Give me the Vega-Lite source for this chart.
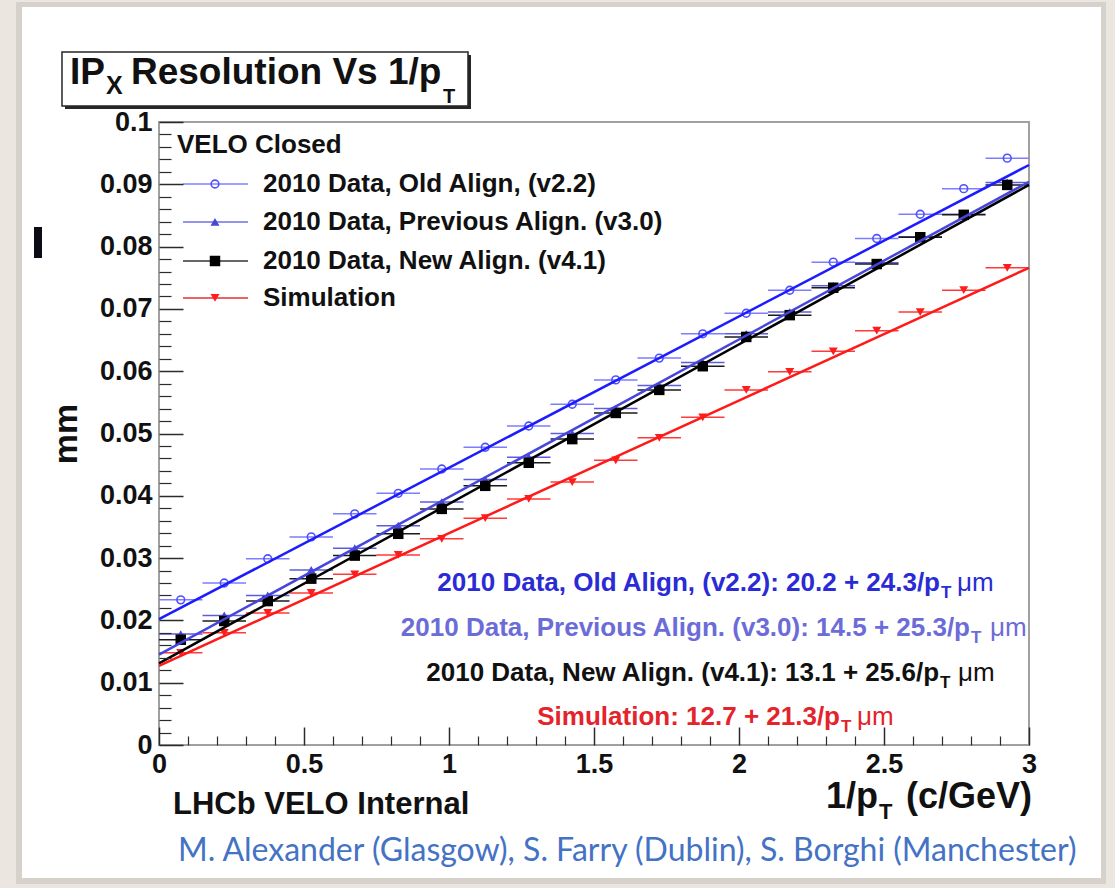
{
  "$schema": "https://vega.github.io/schema/vega-lite/v6.json",
  "width": 870,
  "height": 623,
  "autosize": {"type": "none"},
  "padding": {"left": 159, "top": 122, "right": 86, "bottom": 143},
  "background": "#ebe7e0",
  "config": {"view": {"stroke": null}},
  "datasets": {
    "bins": [
      {"x": 0.075, "lo": 0, "hi": 0.15, "old": 0.0233, "prev": 0.0178, "new": 0.0169, "sim": 0.0148},
      {"x": 0.225, "lo": 0.15, "hi": 0.3, "old": 0.0260, "prev": 0.0208, "new": 0.0199, "sim": 0.0180},
      {"x": 0.375, "lo": 0.3, "hi": 0.45, "old": 0.0299, "prev": 0.0240, "new": 0.0231, "sim": 0.0212},
      {"x": 0.525, "lo": 0.45, "hi": 0.6, "old": 0.0334, "prev": 0.0281, "new": 0.0267, "sim": 0.0244},
      {"x": 0.675, "lo": 0.6, "hi": 0.75, "old": 0.0371, "prev": 0.0316, "new": 0.0304, "sim": 0.0274},
      {"x": 0.825, "lo": 0.75, "hi": 0.9, "old": 0.0404, "prev": 0.0352, "new": 0.0339, "sim": 0.0305},
      {"x": 0.975, "lo": 0.9, "hi": 1.05, "old": 0.0443, "prev": 0.0390, "new": 0.0379, "sim": 0.0331},
      {"x": 1.125, "lo": 1.05, "hi": 1.2, "old": 0.0478, "prev": 0.0426, "new": 0.0416, "sim": 0.0364},
      {"x": 1.275, "lo": 1.2, "hi": 1.35, "old": 0.0512, "prev": 0.0462, "new": 0.0453, "sim": 0.0395},
      {"x": 1.425, "lo": 1.35, "hi": 1.5, "old": 0.0547, "prev": 0.0500, "new": 0.0491, "sim": 0.0422},
      {"x": 1.575, "lo": 1.5, "hi": 1.65, "old": 0.0586, "prev": 0.0540, "new": 0.0533, "sim": 0.0457},
      {"x": 1.725, "lo": 1.65, "hi": 1.8, "old": 0.0621, "prev": 0.0577, "new": 0.0570, "sim": 0.0493},
      {"x": 1.875, "lo": 1.8, "hi": 1.95, "old": 0.0660, "prev": 0.0614, "new": 0.0608, "sim": 0.0526},
      {"x": 2.025, "lo": 1.95, "hi": 2.1, "old": 0.0693, "prev": 0.0660, "new": 0.0655, "sim": 0.0570},
      {"x": 2.175, "lo": 2.1, "hi": 2.25, "old": 0.0730, "prev": 0.0695, "new": 0.0690, "sim": 0.0599},
      {"x": 2.325, "lo": 2.25, "hi": 2.4, "old": 0.0775, "prev": 0.0737, "new": 0.0734, "sim": 0.0632},
      {"x": 2.475, "lo": 2.4, "hi": 2.55, "old": 0.0813, "prev": 0.0774, "new": 0.0772, "sim": 0.0665},
      {"x": 2.625, "lo": 2.55, "hi": 2.7, "old": 0.0852, "prev": 0.0816, "new": 0.0815, "sim": 0.0695},
      {"x": 2.775, "lo": 2.7, "hi": 2.85, "old": 0.0893, "prev": 0.0852, "new": 0.0851, "sim": 0.0730},
      {"x": 2.925, "lo": 2.85, "hi": 3, "old": 0.0942, "prev": 0.0903, "new": 0.0899, "sim": 0.0766}
    ],
    "fits": [
      {"series": "old", "x": 0, "y": 0.0202}, {"series": "old", "x": 3, "y": 0.0931},
      {"series": "prev", "x": 0, "y": 0.0145}, {"series": "prev", "x": 3, "y": 0.0904},
      {"series": "new", "x": 0, "y": 0.0131}, {"series": "new", "x": 3, "y": 0.0899},
      {"series": "sim", "x": 0, "y": 0.0127}, {"series": "sim", "x": 3, "y": 0.0766}
    ]
  },
  "resolve": {"axis": {"x": "independent", "y": "independent"}},
  "layer": [
    {
      "layer": [
        {
          "data": {"values": [{}]},
          "mark": {"type": "rect", "color": "#d6d1ca"},
          "encoding": {
            "x": {"datum": -0.4931, "type": "quantitative", "scale": {"domain": [0, 3], "nice": false, "zero": false},
              "axis": {"orient": "bottom", "values": [0, 0.5, 1, 1.5, 2, 2.5, 3], "format": "~g", "title": null, "grid": false, "domain": false,
                "tickSize": -18, "tickColor": "#2b2b2b", "tickWidth": 1.5,
                "labelFont": "Liberation Sans", "labelFontWeight": "bold", "labelFontSize": 27, "labelColor": "#111111",
                "labelPadding": 24, "labelOverlap": false, "labelFlush": false, "labelBound": false, "zindex": 1}},
            "x2": {"datum": 3.2655},
            "y": {"datum": 0.11926, "type": "quantitative", "scale": {"domain": [0, 0.1], "nice": false, "zero": false},
              "axis": {"orient": "left", "values": [0, 0.01, 0.02, 0.03, 0.04, 0.05, 0.06, 0.07, 0.08, 0.09, 0.1], "format": "~g",
                "title": "mm", "titleFont": "Liberation Sans", "titleFontWeight": "bold", "titleFontSize": 34, "titleColor": "#111111", "titlePadding": 16,
                "grid": false, "domain": false, "tickSize": -24, "tickColor": "#2b2b2b", "tickWidth": 1.5,
                "labelFont": "Liberation Sans", "labelFontWeight": "bold", "labelFontSize": 27, "labelColor": "#111111",
                "labelPadding": 31, "labelOverlap": false, "labelFlush": false, "labelBound": false, "zindex": 1}},
            "y2": {"datum": -0.02231}
          }
        },
        {
          "data": {"values": [{}]},
          "mark": {"type": "rect", "color": "#ffffff"},
          "encoding": {"x": {"datum": -0.4724}, "x2": {"datum": 3.2483}, "y": {"datum": 0.11846}, "y2": {"datum": -0.02135}}
        },
        {
          "data": {"values": [{}]},
          "mark": {"type": "rect", "color": "#0c0c16"},
          "encoding": {"x": {"datum": -0.431}, "x2": {"datum": -0.4034}, "y": {"datum": 0.08315}, "y2": {"datum": 0.07817}}
        },
        {
          "data": {"values": [{}]},
          "mark": {"type": "rect", "color": "#262626"},
          "encoding": {"x": {"datum": -0.3241}, "x2": {"datum": 1.0759}, "y": {"datum": 0.11075}, "y2": {"datum": 0.10209}}
        },
        {
          "data": {"values": [{}]},
          "mark": {"type": "rect", "fill": "#ffffff", "stroke": "#262626", "strokeWidth": 1.5},
          "encoding": {"x": {"datum": -0.3345}, "x2": {"datum": 1.0655}, "y": {"datum": 0.11124}, "y2": {"datum": 0.10257}}
        },
        {
          "data": {"values": [{}]},
          "mark": {"type": "text", "text": "IP", "font": "Liberation Sans", "fontWeight": "bold", "fontSize": 37, "align": "left", "baseline": "alphabetic", "color": "#111111"},
          "encoding": {"x": {"datum": -0.3069}, "y": {"datum": 0.1061}}
        },
        {
          "data": {"values": [{}]},
          "mark": {"type": "text", "text": "X", "font": "Liberation Sans", "fontWeight": "bold", "fontSize": 25, "align": "left", "baseline": "alphabetic", "color": "#111111"},
          "encoding": {"x": {"datum": -0.1828}, "y": {"datum": 0.10457}}
        },
        {
          "data": {"values": [{}]},
          "mark": {"type": "text", "text": "Resolution Vs 1/p", "font": "Liberation Sans", "fontWeight": "bold", "fontSize": 37, "align": "left", "baseline": "alphabetic", "color": "#111111"},
          "encoding": {"x": {"datum": -0.0966}, "y": {"datum": 0.1061}}
        },
        {
          "data": {"values": [{}]},
          "mark": {"type": "text", "text": "T", "font": "Liberation Sans", "fontWeight": "bold", "fontSize": 20, "align": "left", "baseline": "alphabetic", "color": "#111111"},
          "encoding": {"x": {"datum": 0.9793}, "y": {"datum": 0.10297}}
        },
        {
          "data": {"values": [{}]},
          "mark": {"type": "rect", "fill": "transparent", "stroke": "#a0a0a0", "strokeWidth": 2},
          "encoding": {"x": {"datum": 0}, "x2": {"datum": 3}, "y": {"datum": 0}, "y2": {"datum": 0.1}}
        },
        {
          "data": {"name": "bins"},
          "transform": [{"fold": ["old", "prev", "new", "sim"], "as": ["series", "y"]}],
          "mark": {"type": "rule", "strokeWidth": 1.5},
          "encoding": {
            "x": {"field": "lo", "type": "quantitative"},
            "x2": {"field": "hi"},
            "y": {"field": "y", "type": "quantitative"},
            "color": {"field": "series", "type": "nominal", "legend": null,
              "scale": {"domain": ["old", "prev", "new", "sim"], "range": ["#7d7dff", "#5c5ce0", "#1a1a1a", "#ff3a3a"]}}
          }
        },
        {
          "data": {"name": "bins"},
          "mark": {"type": "point", "shape": "circle", "filled": false, "stroke": "#5050ff", "strokeWidth": 1.6, "size": 60, "opacity": 1},
          "encoding": {"x": {"field": "x", "type": "quantitative"}, "y": {"field": "old", "type": "quantitative"}}
        },
        {
          "data": {"name": "bins"},
          "mark": {"type": "point", "shape": "triangle-up", "filled": true, "color": "#4848d8", "size": 80, "opacity": 1},
          "encoding": {"x": {"field": "x", "type": "quantitative"}, "y": {"field": "prev", "type": "quantitative"}}
        },
        {
          "data": {"name": "bins"},
          "mark": {"type": "point", "shape": "square", "filled": true, "color": "#000000", "size": 110, "opacity": 1},
          "encoding": {"x": {"field": "x", "type": "quantitative"}, "y": {"field": "new", "type": "quantitative"}}
        },
        {
          "data": {"name": "bins"},
          "mark": {"type": "point", "shape": "triangle-down", "filled": true, "color": "#ff1c1c", "size": 80, "opacity": 1},
          "encoding": {"x": {"field": "x", "type": "quantitative"}, "y": {"field": "sim", "type": "quantitative"}}
        },
        {
          "data": {"name": "fits"},
          "transform": [{"filter": "datum.series === 'old'"}],
          "mark": {"type": "line", "color": "#1c1cff", "strokeWidth": 2.5},
          "encoding": {"x": {"field": "x", "type": "quantitative"}, "y": {"field": "y", "type": "quantitative"}}
        },
        {
          "data": {"name": "fits"},
          "transform": [{"filter": "datum.series === 'prev'"}],
          "mark": {"type": "line", "color": "#4646dc", "strokeWidth": 2.5},
          "encoding": {"x": {"field": "x", "type": "quantitative"}, "y": {"field": "y", "type": "quantitative"}}
        },
        {
          "data": {"name": "fits"},
          "transform": [{"filter": "datum.series === 'new'"}],
          "mark": {"type": "line", "color": "#000000", "strokeWidth": 2.5},
          "encoding": {"x": {"field": "x", "type": "quantitative"}, "y": {"field": "y", "type": "quantitative"}}
        },
        {
          "data": {"name": "fits"},
          "transform": [{"filter": "datum.series === 'sim'"}],
          "mark": {"type": "line", "color": "#ff1a1a", "strokeWidth": 2.5},
          "encoding": {"x": {"field": "x", "type": "quantitative"}, "y": {"field": "y", "type": "quantitative"}}
        },
        {
          "data": {"values": [{}]},
          "mark": {"type": "text", "text": "VELO Closed", "font": "Liberation Sans", "fontWeight": "bold", "fontSize": 26, "align": "left", "baseline": "middle", "color": "#111111"},
          "encoding": {"x": {"datum": 0.0621}, "y": {"datum": 0.09631}}
        },
        {
          "data": {"values": [{}]},
          "mark": {"type": "rule", "color": "#8080ff", "strokeWidth": 1.5},
          "encoding": {"x": {"datum": 0.0828}, "x2": {"datum": 0.3069}, "y": {"datum": 0.09005}}
        },
        {
          "data": {"values": [{}]},
          "mark": {"type": "point", "shape": "circle", "filled": false, "stroke": "#5050ff", "strokeWidth": 1.6, "size": 60, "opacity": 1},
          "encoding": {"x": {"datum": 0.1931}, "y": {"datum": 0.09005}}
        },
        {
          "data": {"values": [{}]},
          "mark": {"type": "text", "text": "2010 Data, Old Align, (v2.2)", "font": "Liberation Sans", "fontWeight": "bold", "fontSize": 26, "align": "left", "baseline": "middle", "color": "#111111"},
          "encoding": {"x": {"datum": 0.3586}, "y": {"datum": 0.09005}}
        },
        {
          "data": {"values": [{}]},
          "mark": {"type": "rule", "color": "#7070e8", "strokeWidth": 1.5},
          "encoding": {"x": {"datum": 0.0828}, "x2": {"datum": 0.3069}, "y": {"datum": 0.08395}}
        },
        {
          "data": {"values": [{}]},
          "mark": {"type": "point", "shape": "triangle-up", "filled": true, "color": "#4848d8", "size": 80, "opacity": 1},
          "encoding": {"x": {"datum": 0.1931}, "y": {"datum": 0.08395}}
        },
        {
          "data": {"values": [{}]},
          "mark": {"type": "text", "text": "2010 Data, Previous Align. (v3.0)", "font": "Liberation Sans", "fontWeight": "bold", "fontSize": 26, "align": "left", "baseline": "middle", "color": "#111111"},
          "encoding": {"x": {"datum": 0.3586}, "y": {"datum": 0.08395}}
        },
        {
          "data": {"values": [{}]},
          "mark": {"type": "rule", "color": "#333333", "strokeWidth": 1.5},
          "encoding": {"x": {"datum": 0.0828}, "x2": {"datum": 0.3069}, "y": {"datum": 0.07769}}
        },
        {
          "data": {"values": [{}]},
          "mark": {"type": "point", "shape": "square", "filled": true, "color": "#000000", "size": 110, "opacity": 1},
          "encoding": {"x": {"datum": 0.1931}, "y": {"datum": 0.07769}}
        },
        {
          "data": {"values": [{}]},
          "mark": {"type": "text", "text": "2010 Data, New Align. (v4.1)", "font": "Liberation Sans", "fontWeight": "bold", "fontSize": 26, "align": "left", "baseline": "middle", "color": "#111111"},
          "encoding": {"x": {"datum": 0.3586}, "y": {"datum": 0.07769}}
        },
        {
          "data": {"values": [{}]},
          "mark": {"type": "rule", "color": "#e83030", "strokeWidth": 1.5},
          "encoding": {"x": {"datum": 0.0828}, "x2": {"datum": 0.3069}, "y": {"datum": 0.07175}}
        },
        {
          "data": {"values": [{}]},
          "mark": {"type": "point", "shape": "triangle-down", "filled": true, "color": "#ff1c1c", "size": 80, "opacity": 1},
          "encoding": {"x": {"datum": 0.1931}, "y": {"datum": 0.07175}}
        },
        {
          "data": {"values": [{}]},
          "mark": {"type": "text", "text": "Simulation", "font": "Liberation Sans", "fontWeight": "bold", "fontSize": 26, "align": "left", "baseline": "middle", "color": "#111111"},
          "encoding": {"x": {"datum": 0.3586}, "y": {"datum": 0.07175}}
        },
        {
          "data": {"values": [{}]},
          "mark": {"type": "text", "text": "2010 Data, Old Align, (v2.2): 20.2 + 24.3/p", "font": "Liberation Sans", "fontWeight": "bold", "fontSize": 26, "align": "right", "baseline": "middle", "color": "#2b2bd6"},
          "encoding": {"x": {"datum": 2.6931}, "y": {"datum": 0.026}}
        },
        {
          "data": {"values": [{}]},
          "mark": {"type": "text", "text": "T", "font": "Liberation Sans", "fontWeight": "bold", "fontSize": 17, "align": "left", "baseline": "middle", "color": "#2b2bd6"},
          "encoding": {"x": {"datum": 2.6966}, "y": {"datum": 0.0244}}
        },
        {
          "data": {"values": [{}]},
          "mark": {"type": "text", "text": "μm", "font": "Liberation Sans", "fontWeight": "normal", "fontSize": 26, "align": "left", "baseline": "middle", "color": "#2b2bd6"},
          "encoding": {"x": {"datum": 2.7517}, "y": {"datum": 0.026}}
        },
        {
          "data": {"values": [{}]},
          "mark": {"type": "text", "text": "2010 Data, Previous Align. (v3.0): 14.5 + 25.3/p", "font": "Liberation Sans", "fontWeight": "bold", "fontSize": 26, "align": "right", "baseline": "middle", "color": "#6c6cd9"},
          "encoding": {"x": {"datum": 2.7966}, "y": {"datum": 0.01878}}
        },
        {
          "data": {"values": [{}]},
          "mark": {"type": "text", "text": "T", "font": "Liberation Sans", "fontWeight": "bold", "fontSize": 17, "align": "left", "baseline": "middle", "color": "#6c6cd9"},
          "encoding": {"x": {"datum": 2.8}, "y": {"datum": 0.01717}}
        },
        {
          "data": {"values": [{}]},
          "mark": {"type": "text", "text": "μm", "font": "Liberation Sans", "fontWeight": "normal", "fontSize": 26, "align": "left", "baseline": "middle", "color": "#6c6cd9"},
          "encoding": {"x": {"datum": 2.8655}, "y": {"datum": 0.01878}}
        },
        {
          "data": {"values": [{}]},
          "mark": {"type": "text", "text": "2010 Data, New Align. (v4.1): 13.1 + 25.6/p", "font": "Liberation Sans", "fontWeight": "bold", "fontSize": 26, "align": "right", "baseline": "middle", "color": "#111111"},
          "encoding": {"x": {"datum": 2.6897}, "y": {"datum": 0.01156}}
        },
        {
          "data": {"values": [{}]},
          "mark": {"type": "text", "text": "T", "font": "Liberation Sans", "fontWeight": "bold", "fontSize": 17, "align": "left", "baseline": "middle", "color": "#111111"},
          "encoding": {"x": {"datum": 2.6931}, "y": {"datum": 0.00995}}
        },
        {
          "data": {"values": [{}]},
          "mark": {"type": "text", "text": "μm", "font": "Liberation Sans", "fontWeight": "normal", "fontSize": 26, "align": "left", "baseline": "middle", "color": "#111111"},
          "encoding": {"x": {"datum": 2.7552}, "y": {"datum": 0.01156}}
        },
        {
          "data": {"values": [{}]},
          "mark": {"type": "text", "text": "Simulation: 12.7 + 21.3/p", "font": "Liberation Sans", "fontWeight": "bold", "fontSize": 26, "align": "right", "baseline": "middle", "color": "#e4232b"},
          "encoding": {"x": {"datum": 2.3483}, "y": {"datum": 0.00449}}
        },
        {
          "data": {"values": [{}]},
          "mark": {"type": "text", "text": "T", "font": "Liberation Sans", "fontWeight": "bold", "fontSize": 17, "align": "left", "baseline": "middle", "color": "#e4232b"},
          "encoding": {"x": {"datum": 2.3517}, "y": {"datum": 0.00289}}
        },
        {
          "data": {"values": [{}]},
          "mark": {"type": "text", "text": "μm", "font": "Liberation Sans", "fontWeight": "normal", "fontSize": 26, "align": "left", "baseline": "middle", "color": "#e4232b"},
          "encoding": {"x": {"datum": 2.4069}, "y": {"datum": 0.00449}}
        },
        {
          "data": {"values": [{}]},
          "mark": {"type": "text", "text": "1/p", "font": "Liberation Sans", "fontWeight": "bold", "fontSize": 36, "align": "right", "baseline": "middle", "color": "#111111"},
          "encoding": {"x": {"datum": 2.4793}, "y": {"datum": -0.00835}}
        },
        {
          "data": {"values": [{}]},
          "mark": {"type": "text", "text": "T", "font": "Liberation Sans", "fontWeight": "bold", "fontSize": 22, "align": "left", "baseline": "middle", "color": "#111111"},
          "encoding": {"x": {"datum": 2.4828}, "y": {"datum": -0.01075}}
        },
        {
          "data": {"values": [{}]},
          "mark": {"type": "text", "text": "(c/GeV)", "font": "Liberation Sans", "fontWeight": "bold", "fontSize": 36, "align": "right", "baseline": "middle", "color": "#111111"},
          "encoding": {"x": {"datum": 3.0103}, "y": {"datum": -0.00835}}
        },
        {
          "data": {"values": [{}]},
          "mark": {"type": "text", "text": "LHCb VELO Internal", "font": "Liberation Sans", "fontWeight": "bold", "fontSize": 31, "align": "left", "baseline": "middle", "color": "#111111"},
          "encoding": {"x": {"datum": 0.0483}, "y": {"datum": -0.00963}}
        },
        {
          "data": {"values": [{}]},
          "mark": {"type": "text", "text": "M. Alexander (Glasgow), S. Farry (Dublin), S. Borghi (Manchester)", "font": "Lato", "fontSize": 32, "align": "left", "baseline": "middle", "color": "#4472c4"},
          "encoding": {"x": {"datum": 0.0655}, "y": {"datum": -0.01701}}
        }
      ]
    },
    {
      "data": {"values": [{}]},
      "mark": {"type": "point", "opacity": 0},
      "encoding": {
        "x": {"datum": 1, "type": "quantitative",
          "axis": {"orient": "bottom", "values": [0.1, 0.2, 0.3, 0.4, 0.6, 0.7, 0.8, 0.9, 1.1, 1.2, 1.3, 1.4, 1.6, 1.7, 1.8, 1.9, 2.1, 2.2, 2.3, 2.4, 2.6, 2.7, 2.8, 2.9],
            "labels": false, "domain": false, "grid": false, "title": null, "tickSize": -9, "tickColor": "#2b2b2b", "tickWidth": 1.2, "zindex": 1}},
        "y": {"datum": 0.05, "type": "quantitative",
          "axis": {"orient": "left", "values": [0.002, 0.004, 0.006, 0.008, 0.012, 0.014, 0.016, 0.018, 0.022, 0.024, 0.026, 0.028, 0.032, 0.034, 0.036, 0.038, 0.042, 0.044, 0.046, 0.048, 0.052, 0.054, 0.056, 0.058, 0.062, 0.064, 0.066, 0.068, 0.072, 0.074, 0.076, 0.078, 0.082, 0.084, 0.086, 0.088, 0.092, 0.094, 0.096, 0.098],
            "labels": false, "domain": false, "grid": false, "title": null, "tickSize": -12, "tickColor": "#2b2b2b", "tickWidth": 1.2, "zindex": 1}}
      }
    }
  ]
}
